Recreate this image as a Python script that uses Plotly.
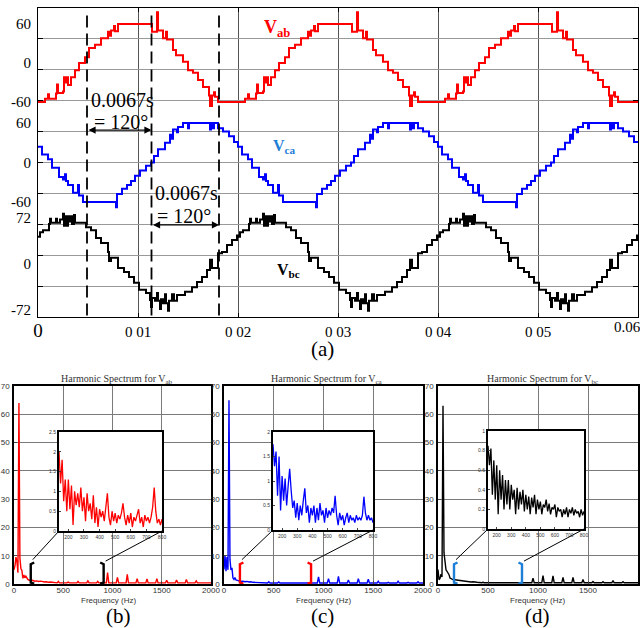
import plotly.graph_objects as go

W, H = 640, 628

# ---------------- time-domain waveforms (one 20 ms cycle) -------------
period = 0.02
n_cycles = 3

vab_t = [0.0000, 0.0007, 0.0010, 0.0011, 0.0018, 0.0019, 0.0020, 0.0025, 0.0026, 0.0027, 0.0029,
         0.0030, 0.0033, 0.0037, 0.0041, 0.0047, 0.0051, 0.0057, 0.0063, 0.0070, 0.0072, 0.0073,
         0.0076, 0.0077, 0.0080, 0.0114, 0.0119, 0.0120, 0.0125, 0.0128, 0.0129, 0.0135, 0.0138,
         0.0145, 0.0150, 0.0155, 0.0160, 0.0165, 0.0171, 0.0172, 0.0174, 0.0176, 0.0177, 0.0180]
vab_v = [-60, -55, -48, -55, -47, -33, -46, -44, -22, -30, -22,
         -34, -22, -11, 0, 9, 23, 28, 38, 48, 42, 50,
         57, 49, 60, 48, 78, 50, 38, 48, 36, 20, 12,
         2, -11, -15, -26, -37, -50, -66, -50, -45, -52, -60]

vca_t = [0.0000, 0.0004, 0.0010, 0.0014, 0.0021, 0.0025, 0.0027, 0.0028, 0.0030, 0.0035, 0.0040,
         0.0041, 0.0045, 0.0078, 0.0079, 0.0084, 0.0089, 0.0093, 0.0097, 0.0102, 0.0108, 0.0113,
         0.0116, 0.0120, 0.0127, 0.0132, 0.0134, 0.0135, 0.0139, 0.0140, 0.0145, 0.0150, 0.0151,
         0.0172, 0.0173, 0.0175, 0.0176, 0.0180, 0.0185, 0.0191, 0.0196]
vca_v = [24, 12, 5, -8, -22, -26, -18, -28, -34, -46, -34,
         -50, -60, -68, -48, -40, -34, -28, -20, -12, -5, 0,
         10, 20, 30, 42, 36, 50, 46, 54, 60, 52, 60,
         50, 60, 52, 60, 52, 47, 40, 31]

vbc_t = [0.0000, 0.0002, 0.0005, 0.0011, 0.0012, 0.0013, 0.0018, 0.0019, 0.0022, 0.0025, 0.0026,
         0.0027, 0.0029, 0.0030, 0.0031, 0.0033, 0.0034, 0.0036, 0.0037, 0.0048, 0.0053, 0.0058,
         0.0063, 0.0070, 0.0071, 0.0073, 0.0080, 0.0086, 0.0091, 0.0096, 0.0101, 0.0108, 0.0112,
         0.0113, 0.0114, 0.0117, 0.0119, 0.0120, 0.0122, 0.0123, 0.0125, 0.0127, 0.0128, 0.0130,
         0.0131, 0.0134, 0.0136, 0.0139, 0.0147, 0.0154, 0.0159, 0.0164, 0.0169, 0.0172, 0.0174,
         0.0180, 0.0184, 0.0189, 0.0194, 0.0199]
vbc_v = [38, 45, 48, 58, 66, 60, 66, 60, 65, 74, 55,
         70, 55, 70, 62, 70, 58, 72, 60, 53, 48, 36,
         28, 14, 0, 5, -11, -17, -25, -34, -45, -50, -61,
         -72, -58, -62, -50, -62, -75, -60, -66, -52, -66, -78,
         -62, -52, -62, -53, -48, -41, -33, -25, -14, 2, -11,
         12, 14, 25, 33, 40]

time_ticks = [0, 0.01, 0.02, 0.03, 0.04, 0.05]
time_ticktext = ['<span style="font-size:19px">0</span>', '0 01', '0 02', '0 03', '0 04', '0 05']
marker_times = [0.0049, 0.01135, 0.0181]   # dashed reference lines

# ---------------- harmonic spectra ----------------
low_f = [0, 10, 20, 30, 40, 50, 60, 70, 80, 90, 100, 110, 120, 130, 140, 150,
         170, 190, 210, 230, 250, 270, 290, 310, 330, 350, 370, 390]
b_low_a = [5.0, 6.5, 9.5, 7.8, 4.0, 64.0, 9.2, 5.5, 4.8, 2.0, 3.2, 2.2, 2.8, 1.8, 1.6, 1.4,
           1.2, 1.3, 1.0, 1.1, 0.9, 1.0, 0.8, 0.7, 0.8, 0.6, 0.7, 0.6]
c_low_a = [5.1, 10.2, 4.5, 9.5, 5.0, 65.0, 8.6, 5.0, 5.7, 2.1, 1.6, 2.3, 1.4, 1.2, 1.0, 1.1,
           0.9, 1.0, 0.8, 0.9, 0.7, 0.8, 0.6, 0.6, 0.5, 0.6, 0.5, 0.5]
d_low_a = [5.1, 1.5, 2.0, 3.5, 2.5, 63.0, 11.0, 6.9, 5.0, 4.5, 3.9, 3.3, 2.1, 1.8, 1.7, 1.6,
           1.5, 1.3, 1.1, 1.2, 1.0, 0.9, 0.9, 0.8, 0.7, 0.8, 0.6, 0.6]

harm_f = [450, 550, 650, 750, 850, 950, 1050, 1150, 1250, 1350, 1450, 1550, 1650, 1750, 1850, 1950]
b_harm_a = [0.9, 0.7, 0.9, 1.1, 0.9, 4.0, 2.3, 3.4, 1.9, 1.8, 1.9, 1.3, 1.4, 1.6, 1.1, 0.5]
c_harm_a = [0.8, 0.7, 0.6, 0.6, 0.5, 2.5, 1.9, 2.7, 1.4, 1.9, 1.7, 1.0, 0.6, 1.0, 0.6, 0.8]
d_harm_a = [0.6, 0.6, 0.5, 0.5, 0.5, 2.1, 3.0, 2.9, 2.3, 2.3, 1.6, 0.9, 0.8, 1.2, 0.8, 0.6]
b_floor, c_floor, d_floor = 0.4, 0.35, 0.45

inset_f = list(range(140, 801, 10))
b_inset_a = [2.0, 1.2, 1.8, 0.75, 1.3, 0.5, 1.3, 0.55, 1.15, 0.15, 1.0, 0.65, 0.95, 0.6, 1.1, 0.5,
             0.85, 0.25, 0.95, 0.5, 0.7, 0.3, 0.9, 0.2, 0.6, 0.1, 0.55, 0.35, 0.5, 0.25, 0.6, 0.95,
             0.35, 0.15, 0.5, 0.25, 0.45, 0.2, 0.4, 0.3, 0.45, 0.7, 0.35, 0.15, 0.4, 0.2, 0.45, 0.1,
             0.35, 0.25, 0.4, 0.55, 0.2, 0.35, 0.1, 0.4, 0.25, 0.35, 0.2, 0.35, 0.6, 1.1, 0.5, 0.2,
             0.3, 0.15, 0.3]
c_inset_a = [1.75, 1.3, 1.6, 0.7, 1.5, 0.4, 1.1, 0.6, 1.05, 0.5, 0.9, 1.25, 0.8, 0.45, 0.6, 0.25,
             0.55, 0.2, 0.5, 0.3, 0.6, 0.85, 0.35, 0.5, 0.15, 0.45, 0.3, 0.5, 0.15, 0.45, 0.2, 0.55,
             0.3, 0.4, 0.15, 0.45, 0.25, 0.4, 0.3, 0.45, 0.35, 0.7, 0.3, 0.1, 0.35, 0.2, 0.3, 0.1,
             0.25, 0.35, 0.15, 0.3, 0.2, 0.25, 0.15, 0.3, 0.2, 0.25, 0.2, 0.3, 0.68, 0.35, 0.2, 0.3,
             0.2, 0.25, 0.15]
d_inset_a = [0.85, 0.65, 0.82, 0.35, 0.7, 0.3, 0.65, 0.15, 0.6, 0.3, 0.55, 0.2, 0.5, 0.25, 0.5, 0.2,
             0.45, 0.3, 0.4, 0.15, 0.42, 0.2, 0.38, 0.25, 0.4, 0.18, 0.35, 0.2, 0.33, 0.15, 0.32, 0.22,
             0.35, 0.15, 0.3, 0.2, 0.28, 0.15, 0.25, 0.22, 0.3, 0.18, 0.26, 0.15, 0.22, 0.2, 0.25, 0.12,
             0.22, 0.18, 0.2, 0.12, 0.2, 0.15, 0.22, 0.12, 0.2, 0.16, 0.22, 0.14, 0.2, 0.16, 0.18, 0.12,
             0.2, 0.14, 0.18]

bracket_f = {'b': [170, 910], 'c': [160, 875], 'd': [160, 840]}

SERIF = 'Liberation Serif'
SANS = 'Liberation Sans'


def tile(ts, vs):
    xs, ys = [], []
    for k in range(n_cycles):
        for t, v in zip(ts, vs):
            xs.append(round(t + k * period, 6))
            ys.append(v)
    xs.append(n_cycles * period)
    ys.append(vs[-1])
    return xs, ys


def spectrum(low_a, harm_a, floor):
    xs, ys = list(low_f), list(low_a)
    for f, a in zip(harm_f, harm_a):
        xs += [f - 12, f, f + 12]
        ys += [floor, a, floor]
    xs.append(2000)
    ys.append(floor)
    return xs, ys


def px(p):
    return p / W


def py(p):
    return 1 - p / H


def note(text, x, y, size, color='black', family=SERIF, xref='paper', yref='paper'):
    return dict(text=text, x=x, y=y, xref=xref, yref=yref, showarrow=False,
                xanchor='center', yanchor='middle',
                font=dict(family=family, size=size, color=color))


fig = go.Figure()

# grid carrier
fig.add_trace(go.Scatter(x=[0.0], y=[0.0], xaxis='x', yaxis='y', mode='markers',
                         marker=dict(opacity=0), showlegend=False, hoverinfo='skip'))
for (ts, vs), color, ya in [((vab_t, vab_v), '#ff0000', 'y2'),
                            ((vca_t, vca_v), '#0000ff', 'y3'),
                            ((vbc_t, vbc_v), '#000000', 'y4')]:
    xs, ys = tile(ts, vs)
    fig.add_trace(go.Scatter(x=xs, y=ys, xaxis='x', yaxis=ya, mode='lines',
                             line=dict(color=color, width=2, shape='hv'),
                             showlegend=False, hoverinfo='skip'))

panels = [
    ('b', 'x2', 'y5', 'x5', 'y8', b_low_a, b_harm_a, b_floor, b_inset_a, '#ff0000', '#000000', 'ab', 2.5),
    ('c', 'x3', 'y6', 'x6', 'y9', c_low_a, c_harm_a, c_floor, c_inset_a, '#0000ff', '#ff0000', 'ca', 2.0),
    ('d', 'x4', 'y7', 'x7', 'y10', d_low_a, d_harm_a, d_floor, d_inset_a, '#000000', '#1f7fd6', 'bc', 1.0),
]
for p in panels:
    name, xa, ya, ixa, iya, la, ha, fl, ia, col, bcol, sub, imax = p
    xs, ys = spectrum(la, ha, fl)
    fig.add_trace(go.Scatter(x=xs, y=ys, xaxis=xa, yaxis=ya, mode='lines',
                             line=dict(color=col, width=1.4), showlegend=False, hoverinfo='skip'))
for p in panels:
    name, xa, ya, ixa, iya, la, ha, fl, ia, col, bcol, sub, imax = p
    fig.add_trace(go.Scatter(x=inset_f, y=ia, xaxis=ixa, yaxis=iya, mode='lines',
                             line=dict(color=col, width=1.3), showlegend=False, hoverinfo='skip'))

top_x = [px(38), px(638)]
top_y = [py(317), py(8)]

layout = dict(
    width=W, height=H, autosize=False,
    margin=dict(l=0, r=0, t=0, b=0, pad=0),
    paper_bgcolor='white', plot_bgcolor='white',
    font=dict(family=SERIF, color='black'),
    xaxis=dict(domain=top_x, range=[0, 0.06], anchor='y', tickvals=time_ticks, ticktext=time_ticktext,
               showgrid=True, gridcolor='#555', gridwidth=1, zeroline=False, automargin=False,
               ticks='inside', ticklen=4, tickcolor='black', showline=True, linecolor='black',
               linewidth=1.2, mirror='ticks', tickfont=dict(family=SERIF, size=15), ticklabelstandoff=1),
    yaxis=dict(domain=top_y, range=[0, 10], tickvals=list(range(1, 10)), showticklabels=False,
               showgrid=True, gridcolor='#999', gridwidth=1.3, zeroline=False, ticks='inside',
               ticklen=5, tickcolor='black', showline=True, linecolor='black', linewidth=1.2,
               mirror='ticks', automargin=False),
    yaxis2=dict(overlaying='y', range=[-390.7, 84.6], tickvals=[60, 0, -60], ticktext=['60', '0', '-60'],
                showgrid=False, zeroline=False, showline=False, ticks='', automargin=False,
                tickfont=dict(family=SERIF, size=15), ticklabelstandoff=6),
    yaxis3=dict(overlaying='y', range=[-234.7, 234.7], tickvals=[60, 0, -60], ticktext=['60', '0', '-60'],
                showgrid=False, zeroline=False, showline=False, ticks='', automargin=False,
                tickfont=dict(family=SERIF, size=15), ticklabelstandoff=6),
    yaxis4=dict(overlaying='y', range=[-87.6, 395.9], tickvals=[72, 0, -72], ticktext=['72', '0', '-72'],
                showgrid=False, zeroline=False, showline=False, ticks='', automargin=False,
                tickfont=dict(family=SERIF, size=15), ticklabelstandoff=6, ticklabelshift=3),
)

main_x = {'b': [14, 211], 'c': [224, 423], 'd': [438, 638]}
inset_x = {'b': [59, 162], 'c': [273, 373], 'd': [488, 584]}
inset_y = {'b': [531, 432], 'c': [530, 432], 'd': [529, 431]}
main_y = [584, 386]
title_x = {'b': 117, 'c': 327, 'd': 542}
freq_x = {'b': 108, 'c': 323, 'd': 537}
label_x = {'b': 118, 'c': 322, 'd': 537}

shapes = []
annotations = []

for p in panels:
    name, xa, ya, ixa, iya, la, ha, fl, ia, col, bcol, sub, imax = p
    xd = [px(main_x[name][0]), px(main_x[name][1])]
    yd = [py(main_y[0]), py(main_y[1])]
    ixd = [px(inset_x[name][0]), px(inset_x[name][1])]
    iyd = [py(inset_y[name][0]), py(inset_y[name][1])]
    xk = 'xaxis' + xa[1:]
    yk = 'yaxis' + ya[1:]
    ixk = 'xaxis' + ixa[1:]
    iyk = 'yaxis' + iya[1:]
    layout[xk] = dict(domain=xd, anchor=ya, range=[0, 2000], tickvals=[0, 500, 1000, 1500, 2000],
                      showgrid=True, gridcolor='#7a7a7a', gridwidth=1, zeroline=False, automargin=False,
                      ticks='inside', ticklen=3, showline=True, linecolor='black', linewidth=1.5,
                      mirror=True, tickfont=dict(family=SANS, size=8, color='#333'),
                      ticklabelstandoff=-2)
    layout[yk] = dict(domain=yd, anchor=xa, range=[0, 70], dtick=10, automargin=False,
                      showgrid=True, gridcolor='#7a7a7a', gridwidth=1, zeroline=False,
                      ticks='inside', ticklen=3, showline=True, linecolor='black', linewidth=1.5,
                      mirror=True, tickfont=dict(family=SANS, size=8, color='#333'),
                      ticklabelstandoff=1)
    layout[ixk] = dict(domain=ixd, anchor=iya, range=[140, 800], automargin=False,
                       tickvals=[200, 300, 400, 500, 600, 700, 800],
                       showgrid=False, zeroline=False, ticks='inside', ticklen=2,
                       showline=True, linecolor='black', linewidth=2, mirror=True,
                       tickfont=dict(family=SANS, size=5, color='#333'), ticklabelstandoff=0)
    layout[iyk] = dict(domain=iyd, anchor=ixa, range=[0, imax], nticks=6, automargin=False,
                       showgrid=False, zeroline=False, ticks='inside', ticklen=2,
                       showline=True, linecolor='black', linewidth=2, mirror=True,
                       tickfont=dict(family=SANS, size=5, color='#333'), ticklabelstandoff=0)

    # brackets marking zoomed band
    fl_, fr_ = bracket_f[name]
    top = 7.6
    shapes.append(dict(type='path', xref=xa, yref=ya,
                       path=f'M {fl_ + 35},{top} L {fl_},{top - 0.6} L {fl_},0.5 L {fl_ + 35},0.1',
                       line=dict(color=bcol, width=2.4)))
    shapes.append(dict(type='path', xref=xa, yref=ya,
                       path=f'M {fr_ - 35},{top} L {fr_},{top - 0.6} L {fr_},0.5 L {fr_ - 35},0.1',
                       line=dict(color=bcol, width=2.4)))
    # connector lines to inset corners (computed from domains)
    cx0 = (ixd[0] - xd[0]) / (xd[1] - xd[0]) * 2000
    cx1 = (ixd[1] - xd[0]) / (xd[1] - xd[0]) * 2000
    cy = (iyd[0] - yd[0]) / (yd[1] - yd[0]) * 70
    shapes.append(dict(type='line', xref=xa, yref=ya, x0=fl_ + 20, y0=top + 1.0, x1=cx0, y1=cy,
                       line=dict(color='black', width=1)))
    shapes.append(dict(type='line', xref=xa, yref=ya, x0=fr_ + 20, y0=top + 0.5, x1=cx1, y1=cy,
                       line=dict(color='black', width=1)))

    annotations.append(note(f'Harmonic Spectrum for V<sub>{sub}</sub>', px(title_x[name]), py(379), 10, '#333'))
    annotations.append(note('Frequency (Hz)', px(freq_x[name]), py(600), 8, '#333', SANS))
    annotations.append(note(f'({name})', px(label_x[name]), py(616), 21))

for t in marker_times:
    shapes.append(dict(type='line', xref='x', yref='y domain', x0=t, x1=t, y0=0.005, y1=0.985,
                       line=dict(color='black', width=1.8, dash='12px,6px')))

# 120-degree arrows
annotations += [
    dict(x=marker_times[1], y=6.05, ax=marker_times[0], ay=6.05, xref='x', yref='y', axref='x', ayref='y',
         text='', showarrow=True, arrowhead=2, arrowside='end+start', arrowsize=1.1, arrowwidth=1.3,
         arrowcolor='black'),
    dict(x=marker_times[2], y=2.98, ax=marker_times[1], ay=2.98, xref='x', yref='y', axref='x', ayref='y',
         text='', showarrow=True, arrowhead=2, arrowside='end+start', arrowsize=1.1, arrowwidth=1.3,
         arrowcolor='black'),
    note('0.0067s', 0.0084, 7.02, 20, xref='x', yref='y'),
    note('= 120°', 0.0083, 6.3, 20, xref='x', yref='y'),
    note('0.0067s', 0.0148, 4.0, 20, xref='x', yref='y'),
    note('= 120°', 0.0146, 3.28, 20, xref='x', yref='y'),
    note('<b>V<sub>ab</sub></b>', 0.0239, 9.35, 18, '#ff0000', xref='x', yref='y'),
    note('<b>V<sub>ca</sub></b>', 0.0246, 5.53, 16, '#1f7fd6', xref='x', yref='y'),
    note('<b>V<sub>bc</sub></b>', 0.025, 1.5, 16, xref='x', yref='y'),
    note('0.06', px(627), py(327), 15),
    note('(a)', px(322), py(349), 21),
]

layout['shapes'] = shapes
layout['annotations'] = annotations
fig.update_layout(**layout)
fig.write_html('out.html', config={'displayModeBar': False},
               post_script="document.body.style.margin='0';document.body.style.padding='0';")
